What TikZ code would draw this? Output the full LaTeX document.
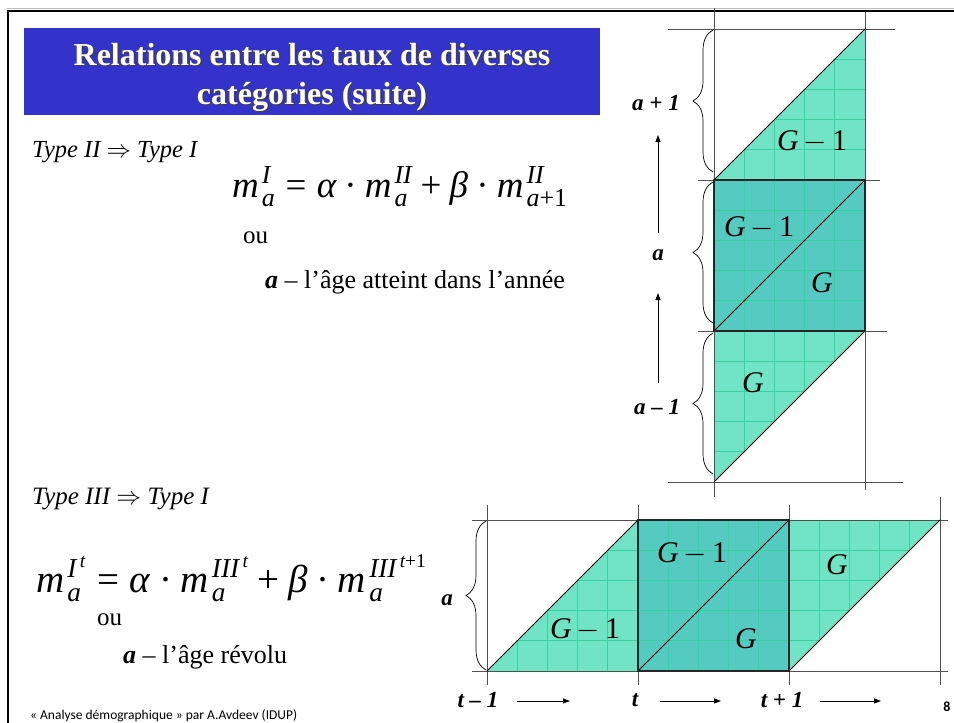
\documentclass[tikz,border=0pt]{standalone}
\usepackage{fix-cm}
\usepackage{amsmath}
\usepackage{fontspec}
\setmainfont{Liberation Serif}
\newfontfamily\calib{Carlito}
\usetikzlibrary{decorations.pathreplacing,arrows.meta}
\definecolor{lightfill}{RGB}{112,228,196}
\definecolor{darkfill}{RGB}{84,202,192}
\definecolor{gridc}{RGB}{52,212,160}
\definecolor{titleblue}{RGB}{51,51,204}
\definecolor{axisc}{RGB}{80,80,80}
\newcommand{\ti}[1]{\text{\itshape #1}}
\newcommand{\tu}[1]{\text{\upshape #1}}
\newcommand{\mm}{\text{\itshape m\kern0.08em}}
\newcommand{\Gm}{\textit{G}\,\(-\)\,1}
\begin{document}
\begin{tikzpicture}[x=1pt,y=-1pt,
  axis/.style={draw=axisc, line width=0.9pt},
  edge/.style={draw=black, line width=0.8pt},
  sqedge/.style={draw=black!85, line width=1.3pt},
  gridl/.style={draw=gridc, line width=0.7pt},
  lab/.style={font=\fontsize{23}{26}\selectfont\bfseries\itshape, inner sep=0pt},
  glab/.style={font=\fontsize{30}{34}\selectfont, inner sep=0pt},
  txt/.style={inner sep=0pt, anchor=base west},
  arr/.style={-{Triangle[length=7pt,width=5pt]}, line width=0.8pt},
  brc/.style={decorate, decoration={brace, amplitude=20pt}, line width=0.7pt}]
\useasboundingbox (0,0) rectangle (954,723);
\fill[white] (0,0) rectangle (954,723);
% frame
\draw[black!25, line width=1pt] (7,8) -- (954,8);
\draw[line width=2.2pt] (8.3,723) -- (8.3,11) -- (954,11);
% title
\node[fill=titleblue, minimum width=576, minimum height=87, anchor=north west, inner sep=0pt] (titlebox) at (24,28) {};
\foreach \dx/\col in {1.6/black!75, 0/white}{
  \node[txt, anchor=base, text=\col, font=\fontsize{32}{36}\selectfont\bfseries] at (312+\dx,65+\dx) {Relations entre les taux de diverses};
  \node[txt, anchor=base, text=\col, font=\fontsize{32}{36}\selectfont\bfseries] at (312+\dx,104+\dx) {catégories (suite)};
}
% section 1 text
\node[txt, font=\fontsize{24.5}{28}\selectfont\itshape] (type2) at (32,157) {Type II {\upshape\(\Rightarrow\)} Type I};
\node[txt, font=\fontsize{37}{44}\selectfont] (f1) at (232,197) {$\mm^{\ti{I}}_{\ti{a}} \mathrel{\tu{=}} \ti{α}\mathbin{\tu{·}}\mm^{\ti{II}}_{\ti{a}} \mathbin{\tu{+}} \ti{β}\mathbin{\tu{·}}\mm^{\ti{II}}_{\ti{a}\tu{+1}}$};
\node[txt, font=\fontsize{25}{28}\selectfont] (ou1) at (243,243) {ou};
\node[txt, font=\fontsize{26}{30}\selectfont] (def1) at (265,288) {\textbf{\textit{a}} – l’âge atteint dans l’année};
% section 2 text
\node[txt, font=\fontsize{25}{28}\selectfont\itshape] (type3) at (32,504) {Type III {\upshape\(\Rightarrow\)} Type I};
\node[txt, font=\fontsize{39}{44}\selectfont] (f2) at (36,592) {$\mm^{\ti{I}^{\,\ti{t}}}_{\ti{a}} \mathrel{\tu{=}} \ti{α}\mathbin{\tu{·}}\mm^{\ti{III}^{\,\ti{t}}}_{\ti{a}} \mathbin{\tu{+}} \ti{β}\mathbin{\tu{·}}\mm^{\ti{III}^{\,\ti{t}\tu{+1}}}_{\ti{a}}$};
\node[txt, font=\fontsize{25}{28}\selectfont] (ou2) at (97,625) {ou};
\node[txt, font=\fontsize{26}{30}\selectfont] (def2) at (123,663) {\textbf{\textit{a}} – l’âge révolu};
\node[txt, font=\fontsize{13.5}{15}\selectfont\calib] (foot) at (30,719) {« Analyse démographique » par A.Avdeev (IDUP)};
\node[inner sep=0pt, font=\fontsize{14}{16}\selectfont\calib\bfseries] (pnum) at (947,707) {8};

% ---------- top diagram ----------
\fill[lightfill] (714,180) -- (865,29) -- (865,331) -- (714,482) -- cycle;
\fill[darkfill] (714,180) rectangle (865,331);
\begin{scope}
  \clip (714,180) -- (865,29) -- (865,331) -- (714,482) -- cycle;
  \foreach \k in {1,...,4} \draw[gridl] ({714+30.2*\k},0) -- ({714+30.2*\k},500);
  \foreach \k in {1,...,14} \draw[gridl] (700,{29+30.2*\k}) -- (880,{29+30.2*\k});
\end{scope}
\draw[axis] (714,8) -- (714,497);
\draw[axis] (865,12) -- (865,490);
\draw[axis] (668,29) -- (895,29);
\draw[axis] (698,180) -- (880,180);
\draw[axis] (698,331) -- (887,331);
\draw[axis] (668,482) -- (903,482);
\draw[edge] (714,180) -- (865,29);
\draw[edge] (714,331) -- (865,180);
\draw[edge] (865,331) -- (714,482);
\draw[sqedge] (714,180) rectangle (865,331);
\draw[brc] (713,172) -- (713,30);
\draw[brc] (713,323) -- (713,182);
\draw[brc] (713,474) -- (713,333);
\node[lab] (ap1) at (656,103) {a + 1};
\node[lab] (a0) at (658,255) {a};
\node[lab] (am1) at (657,407) {a – 1};
\coordinate (ar1s) at (658,233); \coordinate (ar1e) at (658,135);
\coordinate (ar2s) at (658,383); \coordinate (ar2e) at (658,293);
\draw[arr] (ar1s) -- (ar1e);
\draw[arr] (ar2s) -- (ar2e);
\node[glab] (g1) at (812,142) {\Gm};
\node[glab] (g2) at (759,228) {\Gm};
\node[glab] (g3) at (822,283) {\textit{G}};
\node[glab] (g4) at (753,383) {\textit{G}};

% ---------- bottom diagram ----------
\fill[lightfill] (487,671) -- (638,520) -- (940,520) -- (789,671) -- cycle;
\fill[darkfill] (638,520) rectangle (789,671);
\begin{scope}
  \clip (487,671) -- (638,520) -- (940,520) -- (789,671) -- cycle;
  \foreach \k in {1,...,14} \draw[gridl] ({487+30.2*\k},500) -- ({487+30.2*\k},690);
  \foreach \k in {1,...,4} \draw[gridl] (480,{520+30.2*\k}) -- (950,{520+30.2*\k});
\end{scope}
\foreach \xx in {487,638,789} \draw[axis] (\xx,505) -- (\xx,685);
\draw[axis] (940,497) -- (940,685);
\draw[axis] (472,520) -- (948,520);
\draw[axis] (472,671) -- (948,671);
\draw[edge] (487,671) -- (638,520);
\draw[edge] (638,671) -- (789,520);
\draw[edge] (940,520) -- (789,671);
\draw[sqedge] (638,520) rectangle (789,671);
\draw[brc] (486,670) -- (486,521);
\node[lab] (ab) at (447,600) {a};
\node[glab] (h1) at (692,554) {\Gm};
\node[glab] (h2) at (746,639) {\textit{G}};
\node[glab] (h3) at (837,565) {\textit{G}};
\node[glab] (h4) at (585,630) {\Gm};
\node[lab] (tm1) at (478,700) {t – 1};
\node[lab] (t0) at (635,700) {t};
\node[lab] (tp1) at (782,700) {t + 1};
\coordinate (b1s) at (517,701); \coordinate (b1e) at (570,701);
\coordinate (b2s) at (660,701); \coordinate (b2e) at (721,701);
\coordinate (b3s) at (820,701); \coordinate (b3e) at (881,701);
\draw[arr] (b1s) -- (b1e);
\draw[arr] (b2s) -- (b2e);
\draw[arr] (b3s) -- (b3e);
\end{tikzpicture}
\end{document}
